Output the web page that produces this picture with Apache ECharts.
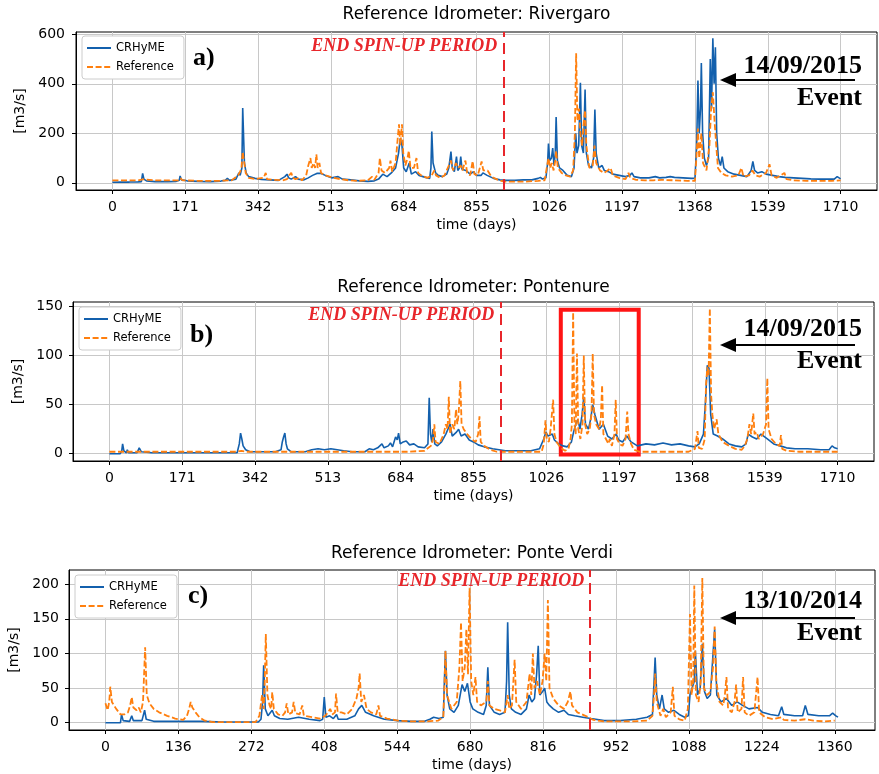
<!DOCTYPE html>
<html>
<head>
<meta charset="utf-8">
<title>CRHyME vs Reference</title>
<script src="https://cdn.jsdelivr.net/npm/echarts@6/dist/echarts.min.js"></script>
<style>
html, body { margin: 0; padding: 0; background: #fff; }
#chart { width: 879px; height: 774px; }
</style>
</head>
<body>
<div id="chart"></div>
<script>
// ---- data: [day, discharge m3/s] ----
var stations = ['Rivergaro', 'Pontenure', 'Ponte Verdi'];
var panelLetters = ['a)', 'b)', 'c)'];
var eventDates = ['14/09/2015', '14/09/2015', '13/10/2014'];
var spinUpDay = [918, 918, 904];

var xTicksLong = [0, 171, 342, 513, 684, 855, 1026, 1197, 1368, 1539, 1710];
var xTicksVerdi = [0, 136, 272, 408, 544, 680, 816, 952, 1088, 1224, 1360];
var yTicksRivergaro = [0, 200, 400, 600];
var yTicksPontenure = [0, 50, 100, 150];
var yTicksVerdi = [0, 50, 100, 150, 200];

// highlighted window in panel b
var boxDays = [1060, 1243];
var boxFlow = [-0.7, 146.6];

var rivergaroCrhyme = [[0,2],[20,3],[40,3],[60,4],[68,5],[71,38],[74,15],[80,8],[100,5],[130,5],[150,6],[157,10],[159,28],[162,12],[175,8],[200,6],[230,5],[255,7],[265,10],[270,18],[275,10],[290,15],[297,40],[300,30],[304,60],[306,302],[308,300],[310,80],[314,40],[320,25],[335,18],[350,14],[370,12],[390,10],[405,25],[410,35],[414,20],[420,15],[430,25],[436,15],[450,12],[460,20],[470,30],[480,38],[490,38],[500,30],[515,20],[530,25],[540,15],[560,12],[580,8],[600,6],[615,8],[625,15],[635,35],[645,25],[655,40],[665,60],[672,120],[676,180],[680,150],[684,60],[690,45],[697,80],[702,35],[712,45],[720,30],[735,22],[745,18],[748,60],[750,207],[753,80],[756,86],[759,40],[765,30],[775,25],[785,35],[790,60],[795,126],[798,60],[803,45],[808,106],[811,50],[815,60],[818,106],[821,55],[830,50],[840,35],[848,45],[855,30],[866,30],[870,40],[880,30],[895,18],[910,12],[925,10],[945,10],[965,12],[985,12],[1000,18],[1005,22],[1010,15],[1018,20],[1022,80],[1024,159],[1027,90],[1031,100],[1034,140],[1037,70],[1040,120],[1042,266],[1045,90],[1050,60],[1058,50],[1068,30],[1078,25],[1084,60],[1088,200],[1091,120],[1095,150],[1099,404],[1102,150],[1106,120],[1110,377],[1113,120],[1118,70],[1125,60],[1130,100],[1133,296],[1136,120],[1142,60],[1150,70],[1155,50],[1165,45],[1175,35],[1190,30],[1205,25],[1215,30],[1220,40],[1225,25],[1240,20],[1260,20],[1275,25],[1285,20],[1300,22],[1310,25],[1320,22],[1340,20],[1360,18],[1368,18],[1372,150],[1375,413],[1378,200],[1381,300],[1383,484],[1386,200],[1390,100],[1395,70],[1400,100],[1404,500],[1407,300],[1410,584],[1413,400],[1416,547],[1419,200],[1423,100],[1428,70],[1432,106],[1436,60],[1445,45],[1460,35],[1475,30],[1490,25],[1500,50],[1504,86],[1508,50],[1515,40],[1525,45],[1535,35],[1550,30],[1565,25],[1580,22],[1600,20],[1620,18],[1640,16],[1660,15],[1680,15],[1695,15],[1702,25],[1706,20],[1710,16]];

var rivergaroReference = [[0,10],[60,10],[71,14],[100,10],[155,10],[160,18],[165,10],[200,8],[250,8],[280,10],[295,30],[300,45],[303,60],[306,126],[309,90],[313,40],[320,20],[335,15],[345,18],[355,20],[360,40],[363,15],[380,12],[400,10],[410,15],[415,30],[420,40],[424,20],[430,15],[440,20],[445,10],[455,30],[460,70],[465,100],[468,60],[472,80],[476,60],[479,115],[482,60],[486,80],[490,40],[500,30],[510,25],[520,20],[535,15],[555,10],[575,8],[600,10],[610,25],[615,12],[625,40],[628,100],[632,50],[640,40],[650,60],[653,90],[657,45],[665,80],[670,180],[673,236],[676,150],[680,236],[683,120],[688,70],[693,100],[696,130],[700,60],[708,60],[714,100],[718,40],[725,30],[740,20],[750,30],[756,50],[760,30],[770,20],[780,30],[790,70],[795,90],[800,50],[807,80],[812,60],[818,70],[822,50],[829,90],[833,40],[840,30],[846,88],[850,35],[858,30],[867,86],[871,50],[881,50],[890,25],[905,12],[920,5],[940,5],[970,5],[1000,8],[1015,10],[1020,60],[1024,100],[1028,60],[1032,80],[1036,50],[1040,90],[1042,130],[1046,60],[1055,40],[1065,30],[1075,25],[1082,50],[1086,200],[1089,523],[1092,250],[1096,300],[1099,200],[1103,150],[1107,250],[1110,293],[1113,150],[1120,60],[1128,70],[1132,150],[1136,80],[1145,50],[1155,40],[1163,50],[1170,60],[1175,30],[1190,20],[1205,15],[1212,40],[1216,20],[1230,12],[1250,10],[1270,10],[1290,12],[1320,10],[1350,8],[1368,8],[1372,120],[1375,219],[1378,100],[1383,200],[1387,80],[1395,50],[1402,150],[1406,300],[1410,366],[1414,250],[1418,150],[1422,60],[1430,40],[1440,30],[1455,25],[1470,30],[1477,60],[1482,25],[1495,30],[1503,50],[1510,30],[1520,25],[1535,40],[1543,75],[1548,30],[1560,20],[1578,40],[1583,15],[1600,10],[1630,8],[1660,8],[1690,8],[1710,10]];

var pontenureCrhyme = [[0,0],[25,0],[29,3],[31,10],[34,3],[40,1],[42,4],[45,1],[65,1],[70,6],[72,8],[75,2],[100,1],[150,1],[200,1],[250,1],[300,1],[305,10],[308,21],[311,15],[314,8],[320,4],[330,2],[360,2],[390,2],[403,4],[406,12],[409,17],[412,21],[415,10],[418,5],[422,6],[427,2],[440,2],[460,2],[475,4],[490,5],[505,4],[520,5],[535,4],[550,3],[570,2],[600,2],[610,5],[620,4],[630,6],[640,10],[645,6],[655,8],[660,11],[665,7],[672,17],[676,14],[679,21],[683,10],[690,12],[697,13],[705,9],[715,10],[725,7],[740,6],[748,10],[751,57],[754,20],[757,12],[760,25],[764,10],[770,8],[780,12],[790,20],[795,25],[800,30],[805,18],[815,22],[820,25],[826,18],[835,20],[845,14],[855,12],[866,9],[880,7],[900,5],[930,3],[960,3],[990,3],[1010,5],[1020,15],[1025,22],[1030,18],[1040,20],[1045,14],[1055,10],[1065,8],[1075,7],[1085,12],[1090,22],[1095,30],[1100,35],[1105,25],[1110,40],[1114,58],[1118,30],[1125,25],[1130,35],[1135,50],[1140,40],[1150,25],[1160,30],[1170,18],[1180,15],[1190,20],[1196,14],[1205,12],[1215,18],[1225,12],[1240,8],[1260,10],[1280,9],[1300,11],[1320,9],[1340,10],[1360,8],[1375,7],[1385,10],[1395,20],[1400,55],[1404,90],[1408,87],[1412,40],[1418,20],[1428,18],[1440,15],[1455,10],[1470,8],[1485,7],[1495,10],[1500,20],[1510,17],[1520,15],[1530,20],[1545,15],[1560,10],[1575,8],[1590,6],[1610,5],[1640,5],[1670,4],[1690,4],[1697,8],[1703,6],[1710,5]];

var pontenureReference = [[0,2],[300,2],[310,3],[320,2],[700,2],[740,3],[755,8],[760,15],[763,30],[766,12],[775,10],[785,20],[790,30],[794,25],[797,58],[800,20],[805,30],[810,25],[814,45],[817,30],[820,40],[824,74],[827,30],[832,25],[840,20],[850,15],[860,12],[866,20],[869,38],[872,12],[880,8],[895,4],[910,2],[1000,2],[1015,2],[1020,10],[1024,34],[1027,15],[1032,12],[1036,25],[1042,55],[1045,20],[1050,12],[1060,6],[1070,3],[1078,5],[1083,15],[1086,30],[1089,144],[1092,30],[1095,20],[1098,102],[1101,25],[1106,15],[1111,30],[1114,100],[1117,30],[1122,20],[1128,25],[1132,40],[1135,102],[1138,40],[1143,30],[1150,25],[1154,35],[1157,70],[1160,20],[1166,15],[1172,10],[1175,15],[1180,8],[1186,20],[1189,55],[1192,15],[1198,10],[1205,8],[1212,15],[1216,43],[1219,20],[1225,10],[1232,4],[1245,2],[1300,2],[1360,2],[1375,5],[1381,23],[1384,6],[1392,5],[1398,15],[1401,70],[1404,88],[1407,80],[1410,148],[1413,60],[1416,40],[1420,25],[1426,35],[1430,20],[1440,12],[1455,8],[1470,5],[1485,4],[1492,8],[1498,15],[1503,30],[1507,20],[1512,41],[1515,20],[1520,22],[1525,15],[1535,20],[1542,30],[1545,77],[1548,25],[1555,15],[1565,10],[1574,8],[1577,19],[1580,5],[1590,3],[1620,2],[1710,2]];

var verdiCrhyme = [[0,0],[28,0],[30,12],[33,3],[45,2],[49,10],[52,3],[68,3],[73,18],[76,5],[90,2],[120,2],[150,2],[180,2],[220,1],[260,1],[285,1],[290,5],[293,30],[295,83],[298,20],[303,10],[308,15],[311,18],[315,10],[325,6],[340,5],[360,8],[380,5],[400,3],[405,5],[408,37],[411,8],[418,10],[425,6],[431,12],[434,5],[450,5],[465,10],[472,20],[478,25],[485,15],[500,10],[520,5],[545,3],[570,2],[595,2],[605,5],[612,8],[622,6],[630,8],[632,60],[634,104],[637,40],[642,20],[650,15],[658,25],[665,55],[670,45],[675,57],[680,30],[685,20],[695,15],[705,12],[710,25],[713,80],[716,25],[725,15],[735,12],[745,15],[748,60],[750,145],[753,40],[757,20],[765,15],[775,12],[785,20],[790,40],[795,30],[800,35],[804,70],[807,111],[810,40],[815,45],[819,50],[823,30],[828,25],[835,20],[845,15],[855,18],[863,12],[875,10],[890,8],[905,6],[930,3],[960,3],[990,5],[1010,8],[1020,12],[1023,60],[1025,94],[1028,40],[1033,20],[1038,40],[1042,20],[1050,15],[1060,18],[1070,12],[1080,8],[1087,10],[1090,40],[1094,50],[1098,60],[1100,104],[1104,40],[1109,50],[1113,114],[1117,45],[1122,35],[1128,40],[1133,100],[1136,135],[1140,40],[1148,30],[1158,35],[1168,25],[1178,30],[1188,25],[1200,20],[1216,22],[1225,15],[1240,12],[1255,10],[1261,23],[1265,12],[1285,10],[1300,10],[1305,25],[1310,12],[1330,10],[1350,10],[1356,14],[1362,10],[1366,8]];

var verdiReference = [[0,28],[4,18],[7,30],[9,52],[12,30],[20,20],[28,12],[35,12],[42,15],[46,25],[49,37],[52,22],[58,18],[62,22],[66,15],[70,30],[74,109],[77,40],[82,28],[90,20],[100,15],[115,10],[130,6],[145,4],[152,10],[156,20],[159,30],[162,22],[168,15],[175,8],[185,3],[200,1],[240,1],[280,1],[287,10],[292,40],[295,20],[297,60],[299,128],[302,40],[306,25],[309,20],[311,44],[314,20],[322,12],[330,10],[335,15],[338,28],[341,12],[348,15],[351,30],[354,14],[362,12],[367,25],[370,10],[385,8],[400,6],[410,10],[415,15],[419,20],[423,12],[428,15],[430,42],[433,15],[440,15],[450,12],[460,20],[468,35],[472,50],[474,71],[477,30],[482,40],[487,20],[495,15],[505,12],[509,25],[512,10],[525,6],[545,3],[570,2],[600,2],[620,3],[630,8],[632,50],[634,104],[637,40],[645,20],[655,30],[660,80],[663,145],[666,60],[670,80],[673,135],[676,70],[679,195],[682,60],[686,40],[690,66],[693,30],[700,25],[710,30],[713,60],[716,25],[725,20],[735,18],[745,15],[750,40],[753,20],[758,25],[763,91],[766,30],[775,20],[785,30],[791,71],[794,40],[797,100],[800,50],[805,60],[810,40],[815,60],[819,100],[822,60],[825,177],[828,50],[835,35],[845,25],[855,20],[862,30],[867,45],[870,25],[880,15],[895,10],[910,4],[930,2],[980,2],[1010,3],[1020,10],[1023,40],[1025,71],[1028,30],[1035,10],[1040,20],[1045,8],[1054,15],[1058,52],[1061,10],[1070,5],[1080,3],[1086,20],[1090,157],[1093,40],[1096,60],[1098,198],[1101,40],[1106,30],[1110,60],[1113,209],[1116,50],[1122,40],[1128,45],[1133,80],[1136,139],[1139,60],[1145,30],[1152,25],[1155,40],[1158,66],[1161,20],[1168,15],[1173,30],[1176,55],[1179,15],[1186,20],[1189,66],[1192,15],[1200,10],[1210,15],[1216,66],[1219,15],[1230,8],[1245,5],[1261,8],[1265,4],[1285,3],[1305,5],[1320,3],[1340,2],[1360,3]];

// ---- layout (pixels) ----
var BLUE = '#1360ad';
var ORANGE = '#ff7f0e';
var RED = '#e8262b';
var SANS = 'DejaVu Sans';
var SERIF = '"Liberation Serif", "DejaVu Serif", serif';

var panels = [
  { left: 76, top: 32, width: 801, height: 158, xMin: -85.5, xMax: 1795.5, yMin: -29, yMax: 609,
    xTicks: xTicksLong, yTicks: yTicksRivergaro, blue: rivergaroCrhyme, orange: rivergaroReference,
    titleTop: 6, yNameGap: 44, yLabelMargin: 11, legendLeft: 82, legendTop: 36,
    letterX: 193, letterY: 58, spinTextY: 46, dateY: 66, eventY: 98, arrowY: 80 },
  { left: 73, top: 302, width: 801, height: 159, xMin: -85.5, xMax: 1795.5, yMin: -7.4, yMax: 154.4,
    xTicks: xTicksLong, yTicks: yTicksPontenure, blue: pontenureCrhyme, orange: pontenureReference,
    titleTop: 279, yNameGap: 43, yLabelMargin: 10, legendLeft: 79, legendTop: 307,
    letterX: 190, letterY: 335, spinTextY: 315, dateY: 329, eventY: 361, arrowY: 345 },
  { left: 69, top: 570, width: 806, height: 160, xMin: -68, xMax: 1435, yMin: -10.5, yMax: 220.5,
    xTicks: xTicksVerdi, yTicks: yTicksVerdi, blue: verdiCrhyme, orange: verdiReference,
    titleTop: 545, yNameGap: 44, yLabelMargin: 10, legendLeft: 75, legendTop: 575,
    letterX: 188, letterY: 596, spinTextY: 581, dateY: 601, eventY: 633, arrowY: 618 }
];

function plainNumber(v) { return String(v); }

var grids = [], xAxes = [], yAxes = [], series = [], legends = [], titles = [], graphics = [];

panels.forEach(function (p, i) {
  grids.push({
    left: p.left, top: p.top, width: p.width, height: p.height,
    show: true, borderColor: '#000', borderWidth: 1, backgroundColor: '#fff',
    containLabel: false, outerBoundsMode: 'none'
  });

  xAxes.push({
    type: 'value', gridIndex: i, min: p.xMin, max: p.xMax,
    name: 'time (days)', nameLocation: 'middle', nameGap: 28,
    nameTextStyle: { fontSize: 14, color: '#000', fontFamily: SANS },
    axisLine: { show: true, onZero: false, lineStyle: { color: '#000', width: 1 } },
    axisTick: { show: true, length: 4, lineStyle: { color: '#000' }, customValues: p.xTicks },
    axisLabel: { customValues: p.xTicks, formatter: plainNumber, fontSize: 14, color: '#000', margin: 10, fontFamily: SANS },
    splitLine: { show: true, lineStyle: { color: '#c8c8c8', width: 1 } }
  });

  yAxes.push({
    type: 'value', gridIndex: i, min: p.yMin, max: p.yMax,
    name: '[m3/s]', nameLocation: 'middle', nameGap: p.yNameGap, nameRotate: 90,
    nameTextStyle: { fontSize: 14, color: '#000', fontFamily: SANS },
    axisLine: { show: true, onZero: false, lineStyle: { color: '#000', width: 1 } },
    axisTick: { show: true, length: 4, lineStyle: { color: '#000' }, customValues: p.yTicks },
    axisLabel: { customValues: p.yTicks, formatter: plainNumber, fontSize: 14, color: '#000', margin: p.yLabelMargin, fontFamily: SANS },
    splitLine: { show: true, lineStyle: { color: '#c8c8c8', width: 1 } }
  });

  series.push({
    name: 'CRHyME', type: 'line', xAxisIndex: i, yAxisIndex: i, data: p.blue,
    symbol: 'none', showSymbol: false, animation: false,
    lineStyle: { color: BLUE, width: 1.6 }, itemStyle: { color: BLUE },
    markLine: {
      silent: true, symbol: ['none', 'none'], animation: false, label: { show: false },
      lineStyle: { color: RED, type: [11, 6], width: 2 },
      data: [{ xAxis: spinUpDay[i] }]
    }
  });

  var ref = {
    name: 'Reference', type: 'line', xAxisIndex: i, yAxisIndex: i, data: p.orange,
    symbol: 'none', showSymbol: false, animation: false,
    lineStyle: { color: ORANGE, width: 1.8, type: [6, 2.6] }, itemStyle: { color: ORANGE }
  };
  if (i === 1) {
    ref.markArea = {
      silent: true, animation: false,
      itemStyle: { color: 'rgba(0,0,0,0)', borderColor: '#ff1414', borderWidth: 4 },
      data: [[{ coord: [boxDays[0], boxFlow[1]] }, { coord: [boxDays[1], boxFlow[0]] }]]
    };
  }
  series.push(ref);

  legends.push({
    orient: 'vertical', left: p.legendLeft, top: p.legendTop,
    data: ['CRHyME', 'Reference'], itemWidth: 24, itemHeight: 12, itemGap: 7,
    itemStyle: { opacity: 0 },
    padding: [6, 10, 6, 4], backgroundColor: '#fff', borderColor: '#cccccc', borderWidth: 1, borderRadius: 3,
    textStyle: { fontSize: 11.5, color: '#000', fontFamily: SANS }
  });

  titles.push({
    text: 'Reference Idrometer: ' + stations[i],
    left: p.left + p.width / 2, top: p.titleTop, textAlign: 'center', padding: 0,
    textStyle: { fontSize: 17, fontWeight: 'normal', color: '#000', fontFamily: SANS }
  });

  var spinX = p.left + (spinUpDay[i] - p.xMin) / (p.xMax - p.xMin) * p.width;
  graphics.push(
    { type: 'text', x: spinX - 6, y: p.spinTextY, z: 100,
      style: { text: 'END SPIN-UP PERIOD', font: 'italic bold 18px ' + SERIF, fill: RED,
               align: 'right', textAlign: 'right', verticalAlign: 'middle', textVerticalAlign: 'middle' } },
    { type: 'text', x: p.letterX, y: p.letterY, z: 100,
      style: { text: panelLetters[i], font: 'bold 26px ' + SERIF, fill: '#000',
               align: 'left', textAlign: 'left', verticalAlign: 'middle', textVerticalAlign: 'middle' } },
    { type: 'text', x: 862, y: p.dateY, z: 100,
      style: { text: eventDates[i], font: 'bold 26px ' + SERIF, fill: '#000',
               align: 'right', textAlign: 'right', verticalAlign: 'middle', textVerticalAlign: 'middle' } },
    { type: 'text', x: 862, y: p.eventY, z: 100,
      style: { text: 'Event', font: 'bold 26px ' + SERIF, fill: '#000',
               align: 'right', textAlign: 'right', verticalAlign: 'middle', textVerticalAlign: 'middle' } },
    { type: 'line', z: 100, shape: { x1: 855, y1: p.arrowY, x2: 732, y2: p.arrowY },
      style: { stroke: '#000', lineWidth: 2 } },
    { type: 'polygon', z: 100, shape: { points: [[720, p.arrowY], [736, p.arrowY - 7], [736, p.arrowY + 7]] },
      style: { fill: '#000' } }
  );
});

var chart = echarts.init(document.getElementById('chart'));
chart.setOption({
  animation: false,
  backgroundColor: '#fff',
  title: titles,
  legend: legends,
  grid: grids,
  xAxis: xAxes,
  yAxis: yAxes,
  series: series,
  graphic: graphics
});
window.addEventListener('resize', function () { chart.resize(); });
</script>
</body>
</html>
